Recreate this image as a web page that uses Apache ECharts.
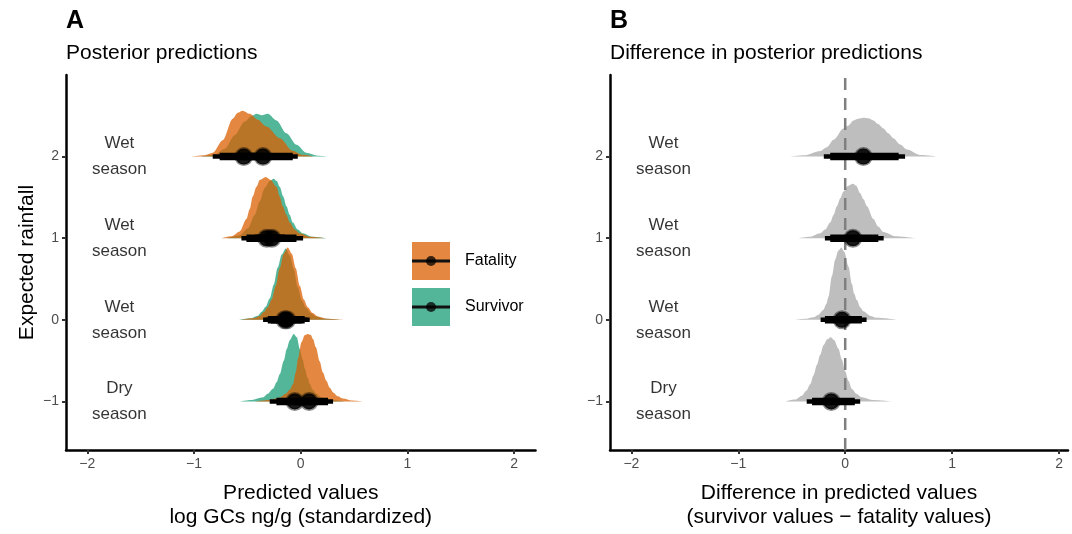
<!DOCTYPE html>
<html><head><meta charset="utf-8">
<script src="https://cdn.jsdelivr.net/npm/echarts@6/dist/echarts.min.js"></script>
<style>html,body{margin:0;padding:0;background:#fff}#c{width:1072px;height:534px}</style>
</head><body><div id="c"></div>
<script>
// ---------- data ----------
const rows = [2, 1, 0, -1];
const rowLabels = ['Wet\nseason', 'Wet\nseason', 'Wet\nseason', 'Dry\nseason'];
const xTicks = [-2, -1, 0, 1, 2];
const yTicks = [-1, 0, 1, 2];
const groups = ['Fatality', 'Survivor'];

// density slabs (x, height in row units), one sub-array per row (2,1,0,-1)
const fatalityX = [
  [-1.040,-0.900,-0.825,-0.731,-0.637,-0.590,-0.546,-0.478,-0.403,-0.321,-0.197,-0.075,0.009,0.131],
  [-0.743,-0.647,-0.572,-0.509,-0.478,-0.450,-0.415,-0.384,-0.328,-0.281,-0.228,-0.197,-0.169,-0.134,-0.103,-0.056,-0.009,0.084,0.225],
  [-0.562,-0.450,-0.384,-0.347,-0.309,-0.272,-0.234,-0.197,-0.159,-0.122,-0.084,-0.047,-0.009,0.028,0.066,0.112,0.159,0.253,0.403],
  [-0.431,-0.291,-0.197,-0.141,-0.103,-0.072,-0.047,-0.025,0.007,0.037,0.066,0.094,0.115,0.141,0.178,0.206,0.241,0.272,0.303,0.347,0.396,0.478,0.581]
];
const fatalityH = [
  [0,0.018,0.048,0.202,0.464,0.536,0.563,0.524,0.452,0.369,0.226,0.071,0.024,0],
  [0,0.024,0.083,0.235,0.357,0.512,0.631,0.714,0.75,0.714,0.631,0.512,0.393,0.286,0.194,0.107,0.060,0.018,0],
  [0,0.018,0.048,0.095,0.155,0.25,0.417,0.631,0.81,0.885,0.81,0.631,0.417,0.25,0.155,0.083,0.042,0.012,0],
  [0,0.018,0.048,0.095,0.143,0.214,0.357,0.527,0.726,0.81,0.825,0.815,0.765,0.667,0.488,0.357,0.25,0.167,0.111,0.065,0.036,0.012,0]
];
const survivorX = [
  [-0.947,-0.806,-0.712,-0.619,-0.525,-0.459,-0.412,-0.366,-0.309,-0.228,-0.134,-0.040,0.053,0.159,0.272],
  [-0.684,-0.572,-0.497,-0.431,-0.384,-0.337,-0.291,-0.253,-0.225,-0.197,-0.164,-0.134,-0.103,-0.075,-0.028,0.019,0.103,0.244],
  [-0.581,-0.469,-0.403,-0.366,-0.328,-0.291,-0.253,-0.216,-0.178,-0.141,-0.103,-0.066,-0.028,0.009,0.047,0.094,0.141,0.234,0.366],
  [-0.572,-0.459,-0.353,-0.309,-0.260,-0.225,-0.197,-0.159,-0.131,-0.103,-0.066,-0.037,-0.009,0.019,0.037,0.066,0.084,0.112,0.147,0.197,0.272,0.412]
];
const survivorH = [
  [0,0.024,0.095,0.262,0.429,0.5,0.524,0.506,0.524,0.444,0.286,0.146,0.048,0.012,0],
  [0,0.036,0.119,0.286,0.452,0.619,0.702,0.730,0.702,0.631,0.512,0.393,0.286,0.194,0.107,0.060,0.018,0],
  [0,0.018,0.05,0.1,0.16,0.26,0.43,0.64,0.80,0.875,0.79,0.62,0.40,0.24,0.15,0.08,0.04,0.012,0],
  [0,0.018,0.051,0.095,0.155,0.238,0.333,0.5,0.643,0.75,0.825,0.786,0.643,0.512,0.405,0.286,0.214,0.143,0.095,0.048,0.018,0]
];
const diffX = [
  [-0.533,-0.374,-0.234,-0.168,-0.109,-0.016,0.028,0.078,0.121,0.171,0.215,0.264,0.308,0.358,0.402,0.451,0.514,0.577,0.701,0.869],
  [-0.439,-0.327,-0.234,-0.187,-0.140,-0.109,-0.078,-0.047,-0.016,0.028,0.072,0.103,0.140,0.171,0.203,0.264,0.308,0.358,0.467,0.654],
  [-0.467,-0.374,-0.296,-0.252,-0.203,-0.178,-0.156,-0.124,-0.093,-0.065,-0.037,-0.009,0.031,0.063,0.084,0.109,0.140,0.171,0.234,0.296,0.483],
  [-0.561,-0.467,-0.405,-0.364,-0.327,-0.296,-0.264,-0.234,-0.203,-0.168,-0.134,-0.103,-0.063,-0.031,0,0.031,0.063,0.103,0.156,0.252,0.436]
];
const diffH = [
  [0,0.018,0.068,0.119,0.206,0.345,0.381,0.444,0.464,0.476,0.470,0.444,0.399,0.345,0.286,0.226,0.149,0.087,0.020,0],
  [0,0.018,0.060,0.107,0.194,0.286,0.393,0.488,0.571,0.643,0.667,0.643,0.551,0.476,0.393,0.235,0.143,0.075,0.024,0],
  [0,0.012,0.032,0.060,0.123,0.190,0.282,0.536,0.738,0.845,0.885,0.833,0.655,0.440,0.321,0.242,0.155,0.104,0.048,0.024,0],
  [0,0.024,0.071,0.131,0.211,0.321,0.449,0.571,0.690,0.762,0.786,0.750,0.646,0.512,0.369,0.25,0.151,0.095,0.051,0.018,0]
];

// point + intervals per row (2,1,0,-1)
const fatalityMedian = [-0.534, -0.32, -0.13, 0.078];
const fatalityLo95 = [-0.825, -0.556, -0.33, -0.12];
const fatalityHi95 = [-0.20, -0.08, 0.084, 0.303];
const fatalityLo66 = [-0.76, -0.509, -0.28, -0.06];
const fatalityHi66 = [-0.30, -0.15, 0.037, 0.256];
const survivorMedian = [-0.354, -0.27, -0.15, -0.056];
const survivorLo95 = [-0.68, -0.48, -0.353, -0.291];
const survivorHi95 = [-0.028, 0.022, 0.06, 0.17];
const survivorLo66 = [-0.60, -0.43, -0.309, -0.228];
const survivorHi66 = [-0.075, -0.04, 0.01, 0.12];
const diffMedian = [0.17, 0.072, -0.03, -0.13];
const diffLo95 = [-0.20, -0.19, -0.23, -0.36];
const diffHi95 = [0.56, 0.36, 0.20, 0.14];
const diffLo66 = [-0.14, -0.14, -0.19, -0.31];
const diffHi66 = [0.50, 0.31, 0.156, 0.09];

// ---------- styling ----------
const FONT = 'Liberation Sans, Arial, sans-serif';
const ORANGE = 'rgba(217,95,2,0.75)';
const TEAL = 'rgba(27,158,119,0.75)';
const GREY = '#bebebe';
const fmt = v => (v < 0 ? '\u2212' + Math.abs(v) : String(v));

function slab(xs, hs, row, color, gi, name) {
  return {
    type: 'line', name: name, xAxisIndex: gi, yAxisIndex: gi,
    smooth: 0.3, smoothMonotone: 'x', symbol: 'none', silent: true,
    lineStyle: { width: 0, color: color },
    areaStyle: { color: color, opacity: 1, origin: row },
    data: xs.map((x, i) => [x, row + hs[i]]), z: 2
  };
}
function intervals(lo95, hi95, lo66, hi66, gi) {
  return {
    type: 'custom', xAxisIndex: gi, yAxisIndex: gi, silent: true, z: 5,
    renderItem: (params, api) => {
      const y = api.value(0);
      const a = api.coord([api.value(1), y]), b = api.coord([api.value(2), y]);
      const c = api.coord([api.value(3), y]), d = api.coord([api.value(4), y]);
      return { type: 'group', children: [
        { type: 'line', shape: { x1: a[0], y1: a[1], x2: b[0], y2: b[1] }, style: { stroke: '#000', lineWidth: 4.5 } },
        { type: 'line', shape: { x1: c[0], y1: c[1], x2: d[0], y2: d[1] }, style: { stroke: '#000', lineWidth: 7.5 } }
      ]};
    },
    encode: { x: [1, 2, 3, 4], y: 0 },
    data: rows.map((r, i) => [r, lo95[i], hi95[i], lo66[i], hi66[i]])
  };
}
function points(med, gi) {
  return {
    type: 'scatter', xAxisIndex: gi, yAxisIndex: gi, silent: true, z: 6,
    symbolSize: 16,
    itemStyle: { color: 'rgba(0,0,0,0.9)', borderColor: 'rgba(0,0,0,0.45)', borderWidth: 3, opacity: 1 },
    data: rows.map((r, i) => [med[i], r])
  };
}
function labels(gi) {
  return {
    type: 'scatter', xAxisIndex: gi, yAxisIndex: gi, silent: true, symbolSize: 0, z: 7,
    label: { show: true, position: 'inside', formatter: p => rowLabels[p.dataIndex],
      fontSize: 17, lineHeight: 26, color: '#000', fontFamily: FONT },
    data: rows.map(r => [-1.7, r])
  };
}

const series = [];
rows.forEach((r, i) => {
  series.push(slab(survivorX[i], survivorH[i], r, TEAL, 0, 'Survivor'));
  series.push(slab(fatalityX[i], fatalityH[i], r, ORANGE, 0, 'Fatality'));
  series.push(slab(diffX[i], diffH[i], r, GREY, 1, 'Difference'));
});
series.push({
  type: 'line', xAxisIndex: 1, yAxisIndex: 1, symbol: 'none', silent: true, z: 4,
  lineStyle: { color: '#7f7f7f', width: 2.5, type: [12, 8] },
  data: [[0, -1.595], [0, 3.0]]
});
series.push(intervals(survivorLo95, survivorHi95, survivorLo66, survivorHi66, 0));
series.push(intervals(fatalityLo95, fatalityHi95, fatalityLo66, fatalityHi66, 0));
series.push(intervals(diffLo95, diffHi95, diffLo66, diffHi66, 1));
series.push(points(fatalityMedian, 0));
series.push(points(survivorMedian, 0));
series.push(points(diffMedian, 1));
series.push(labels(0));
series.push(labels(1));

function xAxis(gi, max, name) {
  return {
    type: 'value', gridIndex: gi, min: -2.2, max: max,
    name: name, nameLocation: 'middle', nameGap: 31,
    nameTextStyle: { fontSize: 21, lineHeight: 24, color: '#000', fontFamily: FONT },
    axisLine: { show: true, onZero: false, lineStyle: { color: '#000', width: 2.5 } },
    axisTick: { show: true, length: 4, lineStyle: { color: '#333', width: 2 }, customValues: xTicks },
    axisLabel: { fontSize: 14, color: '#4d4d4d', margin: 7, fontFamily: FONT, customValues: xTicks, formatter: fmt },
    splitLine: { show: false }
  };
}
function yAxis(gi, withName) {
  return {
    type: 'value', gridIndex: gi, min: -1.595, max: 3.0,
    name: withName ? 'Expected rainfall' : '', nameLocation: 'middle', nameGap: 28, nameRotate: 90,
    nameTextStyle: { fontSize: 21, color: '#000', fontFamily: FONT },
    axisLine: { show: true, onZero: false, lineStyle: { color: '#000', width: 2.5 } },
    axisTick: { show: true, length: 4, lineStyle: { color: '#333', width: 2 }, customValues: yTicks },
    axisLabel: { fontSize: 14, color: '#4d4d4d', margin: 7, fontFamily: FONT, customValues: yTicks, formatter: fmt },
    splitLine: { show: false }
  };
}

const legendG = [];
[[ORANGE, 242, groups[0]], [TEAL, 288, groups[1]]].forEach(([col, y, txt]) => {
  legendG.push({ type: 'rect', shape: { x: 412, y: y, width: 38, height: 38 }, style: { fill: col } });
  legendG.push({ type: 'line', shape: { x1: 412, y1: y + 19, x2: 450, y2: y + 19 }, style: { stroke: '#111', lineWidth: 3 } });
  legendG.push({ type: 'circle', shape: { cx: 431, cy: y + 19, r: 5 }, style: { fill: 'rgba(0,0,0,0.75)' } });
  legendG.push({ type: 'text', x: 465, y: y + 19, style: { text: txt, fontSize: 16, fill: '#000', fontFamily: FONT, textVerticalAlign: 'middle', textAlign: 'left' } });
});

const chart = echarts.init(document.getElementById('c'), null, { renderer: 'canvas' });
chart.setOption({
  animation: false,
  backgroundColor: '#fff',
  textStyle: { fontFamily: FONT },
  title: [
    { text: 'A', left: 66, top: 9, padding: 0, textStyle: { fontSize: 25, fontWeight: 'bold', color: '#000', fontFamily: FONT } },
    { text: 'Posterior predictions', left: 66, top: 43, padding: 0, textStyle: { fontSize: 21, fontWeight: 'normal', color: '#000', fontFamily: FONT } },
    { text: 'B', left: 610, top: 9, padding: 0, textStyle: { fontSize: 25, fontWeight: 'bold', color: '#000', fontFamily: FONT } },
    { text: 'Difference in posterior predictions', left: 610, top: 43, padding: 0, textStyle: { fontSize: 21, fontWeight: 'normal', color: '#000', fontFamily: FONT } }
  ],
  grid: [
    { left: 66, top: 75, width: 469.5, height: 386 },
    { left: 610, top: 75, width: 458, height: 386 }
  ],
  xAxis: [
    xAxis(0, 2.2, 'Predicted values\nlog GCs ng/g (standardized)'),
    xAxis(1, 2.084, 'Difference in predicted values\n(survivor values \u2212 fatality values)')
  ],
  yAxis: [yAxis(0, true), yAxis(1, false)],
  graphic: legendG,
  series: series
});
</script>
</body></html>
